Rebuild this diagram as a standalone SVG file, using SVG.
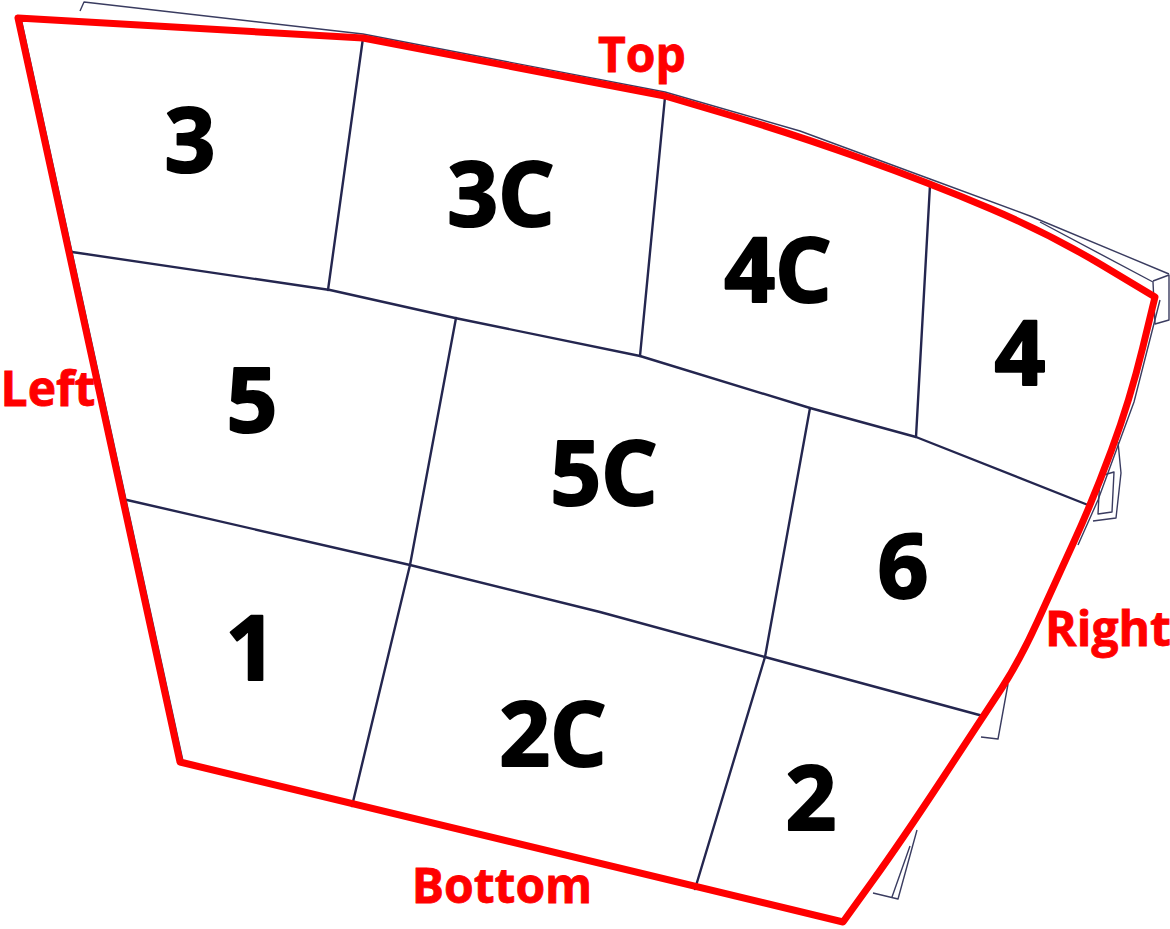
<svg xmlns="http://www.w3.org/2000/svg" width="1170" height="929" viewBox="0 0 1170 929">
<style>
.g{fill:none;stroke:#24264f;stroke-width:2.4;stroke-linejoin:round;stroke-linecap:round}
.t{fill:none;stroke:#3a3c60;stroke-width:1.4;stroke-linejoin:round}
.r{fill:none;stroke:#ff0000;stroke-width:7;stroke-linejoin:round;stroke-linecap:round}
.n{font-family:"Open Sans","Liberation Sans",sans-serif;font-weight:700;font-size:89px;fill:#000;stroke:#000;stroke-width:2.2;stroke-linejoin:round;text-anchor:middle}
.l{font-family:"Open Sans","Liberation Sans",sans-serif;font-weight:700;font-size:48px;fill:#ff0000;stroke:#ff0000;stroke-width:0.8;text-anchor:middle}
</style>
<rect width="1170" height="929" fill="#fff"/>
<g id="outer-structure">
<path class="t" d="M80,11 L84,2 L363,34 L665,92 L800,131 L930,179 L1030,216 L1169,274"/>
<path class="t" d="M1040,222 L1153,282 L1155,324 L1169,320 L1169,275 L1153,281"/>
<path class="t" d="M1160,300 L1134,402 L1098,500 L1078,545"/>
<path class="t" d="M21,18 L183,761"/>
<path class="t" d="M1118,442 L1121,473 L1116,518 L1093,521 M1100,476 L1114,472 L1112,512 L1098,514 Z"/>
<path class="t" d="M1008,684 L998,739 L981,737"/>
<path class="t" d="M917,830 L898,899 L873,893 M910,846 L892,897"/>
</g>
<g id="connectors">
<path class="g" d="M72,252 L330,290 L455,318 L640,356 L810,408 L916,437 L1088,505"/>
<path class="g" d="M127,500 L410,565 L600,612 L765,657 L983,716"/>
<path class="g" d="M363,38 L328,290"/>
<path class="g" d="M665,97 L640,356"/>
<path class="g" d="M930,185 L916,437"/>
<path class="g" d="M456,318 L410,565 L352,806"/>
<path class="g" d="M810,408 L765,657 L695,889"/>
</g>
<g id="boundary">
<path class="r" d="M18,18 L363,38 L665,96 L727.5,114.5 Q790,133 860,158 Q930,183 990,208.5 Q1050,234 1102.5,265.5 L1155,297 L1142.5,348.5 Q1130,400 1111.5,450 Q1093,500 1074,541.5 Q1055,583 1037.5,621.5 Q1020,660 1001.5,688.5 Q983,717 941.5,780 Q900,843 871.5,882.5 L843,922 L180,762 Z"/>
</g>
<g id="cell-3"><text class="n" x="190" y="172">3</text></g>
<g id="cell-3C"><text class="n" x="501" y="226">3C</text></g>
<g id="cell-4C"><text class="n" x="778" y="302">4C</text></g>
<g id="cell-4"><text class="n" x="1020" y="385">4</text></g>
<g id="cell-5"><text class="n" x="252" y="432">5</text></g>
<g id="cell-5C"><text class="n" x="604" y="505">5C</text></g>
<g id="cell-6"><text class="n" x="903" y="598">6</text></g>
<g id="cell-1"><text class="n" x="251" y="680">1</text></g>
<g id="cell-2C"><text class="n" x="553" y="766">2C</text></g>
<g id="cell-2"><text class="n" x="811" y="830">2</text></g>
<g id="side-labels">
<text class="l" x="642" y="72">Top</text>
<text class="l" x="48" y="406">Left</text>
<text class="l" x="1108" y="646">Right</text>
<text class="l" x="502" y="903">Bottom</text>
</g>
</svg>
